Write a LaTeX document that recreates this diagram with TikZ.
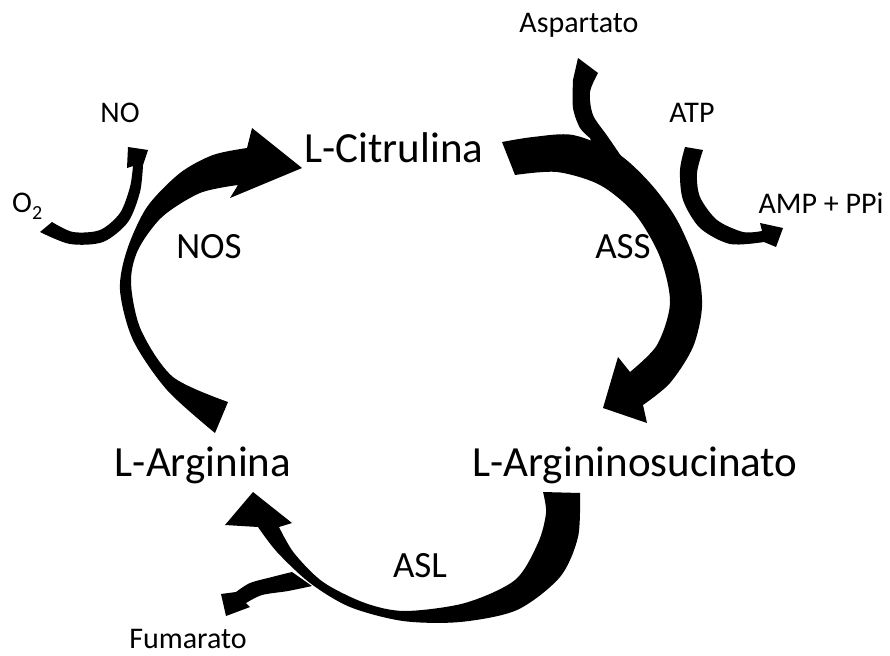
\documentclass[tikz,border=0pt]{standalone}
\usepackage{fontspec}
\setmainfont{Carlito}
\tikzset{
  big/.style={font=\fontsize{43}{50}\selectfont, anchor=base, inner sep=0pt},
  enz/.style={font=\fontsize{37}{44}\selectfont, anchor=base, inner sep=0pt},
  small/.style={font=\fontsize{30}{36}\selectfont, anchor=base, inner sep=0pt},
  blob/.style={fill=black, draw=none}
}
\begin{document}
\begin{tikzpicture}[x=1pt,y=-1pt]
\useasboundingbox (0,0) rectangle (890,655);
% NOS arrow
\fill[blob] (215,433) -- plot[smooth] coordinates {(215,433) (167,390) (133,340) (120,290) (127,250) (147,207) (180,173) (213,155) (247,148)}
  -- (252,128) -- (302,168) -- (230,198) -- (238,185)
  -- plot[smooth] coordinates {(238,185) (200,193) (162,217) (138,250) (131,283) (141,330) (173,377) (228,402)} -- cycle;
% O2 -> NO
\fill[blob] (40,232) -- (52,222) -- plot[smooth] coordinates {(52,222) (73,232) (100,230) (120,213) (130,187) (133,166)}
  -- (127,168) -- (128,147) -- (148,150) -- (143,165)
  -- plot[smooth] coordinates {(143,165) (140,192) (128,222) (103,242) (70,244) (40,232)} -- cycle;
% ASS arrow
\fill[blob] (502,142) -- plot[smooth] coordinates {(502,142) (533,137) (573,135) (617,153) (650,183) (677,220) (697,267) (702,307) (693,347) (670,383) (643,405)}
  -- (647,423) -- (603,408) -- (618,357) -- (630,372)
  -- plot[smooth] coordinates {(630,372) (657,345) (670,303) (660,257) (635,214) (600,185) (557,172) (515,175)} -- cycle;
% Aspartato branch
\fill[blob] (578,58) -- (598,73) -- plot[smooth] coordinates {(598,73) (590,92) (593,115) (608,137) (632,172)}
  -- (600,165) -- (590,138) -- plot[smooth] coordinates {(590,138) (580,128) (573,108) (573,80)} -- cycle;
% ATP -> AMP + PPi
\fill[blob] (685,147) -- (703,150) -- plot[smooth] coordinates {(703,150) (697,173) (700,197) (717,220) (743,232) (762,231)}
  -- (760,223) -- (783,228) -- (776,247) -- (764,242)
  -- plot[smooth] coordinates {(764,242) (730,244) (700,228) (683,200) (680,170) (685,147)} -- cycle;
% ASL arrow
\fill[blob] (543,492) -- (580,493) -- plot[smooth] coordinates {(580,493) (578,537) (560,577) (517,610) (460,622) (403,621) (350,607) (310,583) (277,552) (258,527)}
  -- (225,525) -- (253,492) -- (292,523) -- (279,527)
  -- plot[smooth] coordinates {(279,527) (294,553) (323,582) (365,603) (405,611) (465,603) (515,580) (538,543) (546,513) (543,492)} -- cycle;
% Fumarato branch
\fill[blob] (292,572) -- plot[smooth] coordinates {(292,572) (272,577) (250,583) (236,592)}
  -- (221,594) -- (226,616) -- (250,607) -- (246,603)
  -- plot[smooth] coordinates {(246,603) (262,595) (288,591) (312,586)} -- cycle;
% labels
\node[big] (cit) at (394,162) {L-Citrulina};
\node[big] (arg) at (203,476) {L-Arginina};
\node[big] (asuc) at (635,476) {L-Argininosucinato};
\node[enz] (nos) at (209,258) {NOS};
\node[enz] (ass) at (623,258) {ASS};
\node[enz] (asl) at (420,577) {ASL};
\node[small] (asp) at (579,33) {Aspartato};
\node[small] (atp) at (692,123) {ATP};
\node[small] (amp) at (821,213) {AMP + PPi};
\node[small] (no) at (120,123) {NO};
\node[small, anchor=base west] (o2) at (12,212) {O\raisebox{-0.25em}{\fontsize{20}{24}\selectfont 2}};
\node[small] (fum) at (188,648) {Fumarato};
\end{tikzpicture}
\end{document}
